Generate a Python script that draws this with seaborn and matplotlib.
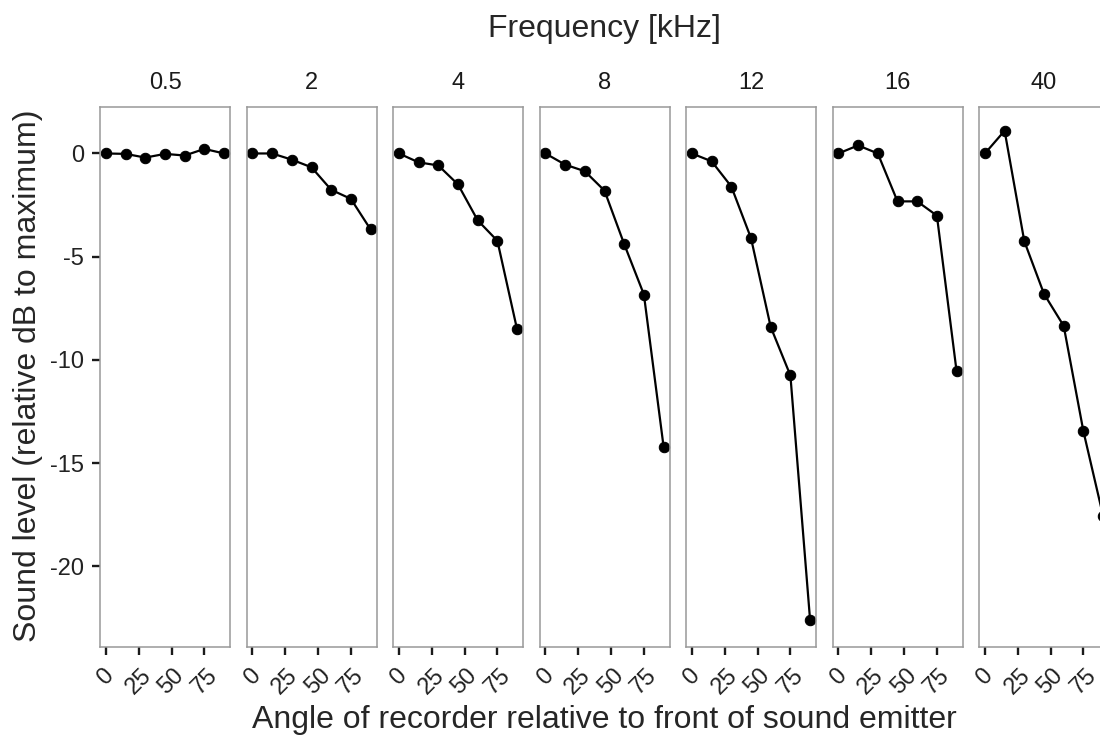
import numpy as np
import pandas as pd
import matplotlib
matplotlib.use("Agg")
import matplotlib.pyplot as plt
import seaborn as sns

# ---- data ----
angles = [0, 15, 30, 45, 60, 75, 90]
freq_labels = ["0.5", "2", "4", "8", "12", "16", "40"]
level_0_5 = [0.0, -0.02, -0.2, -0.02, -0.1, 0.22, 0.0]
level_2 = [0.0, 0.0, -0.3, -0.67, -1.76, -2.2, -3.68]
level_4 = [0.0, -0.43, -0.58, -1.5, -3.24, -4.23, -8.52]
level_8 = [0.0, -0.54, -0.86, -1.8, -4.39, -6.83, -14.2]
level_12 = [0.0, -0.38, -1.6, -4.1, -8.4, -10.75, -22.6]
level_16 = [0.0, 0.39, 0.0, -2.32, -2.32, -3.01, -10.55]
level_40 = [0.0, 1.1, -4.25, -6.8, -8.35, -13.45, -17.55]
y_ticks = [0, -5, -10, -15, -20]
x_ticks = [0, 25, 50, 75]

levels = [level_0_5, level_2, level_4, level_8, level_12, level_16, level_40]
rows = []
for f, lv in zip(freq_labels, levels):
    for a, v in zip(angles, lv):
        rows.append({"freq": f, "angle": a, "level": v})
df = pd.DataFrame(rows)

sns.set_theme(style="ticks")
plt.rcParams['font.family'] = ['Liberation Sans', 'DejaVu Sans']

g = sns.relplot(data=df, x="angle", y="level", col="freq", col_order=freq_labels,
                kind="line", marker="o", color="black", linewidth=1.6,
                markersize=7.5, markeredgecolor="black", errorbar=None,
                facet_kws=dict(sharex=True, sharey=True))
fig = g.figure
fig.set_size_inches(11, 7.38)
fig.set_dpi(100)

W, H = 1100, 738
lefts = [100, 246.5, 393, 539.5, 686, 832.5, 979]
pw = 130
top_px, bot_px = 107, 647
for i, (ax, f) in enumerate(zip(g.axes.flat, freq_labels)):
    ax.set_position([lefts[i] / W, 1 - bot_px / H, pw / W, (bot_px - top_px) / H])
    ax.set_xlim(-4.5, 94.5)
    ax.set_ylim(-23.9, 2.25)
    ax.set_xticks(x_ticks)
    ax.set_xticklabels([str(t) for t in x_ticks], rotation=45, ha="center", va="top",
                       fontsize=17, color="#222222")
    ax.set_yticks(y_ticks)
    ax.set_yticklabels([str(t) for t in y_ticks], fontsize=17, color="#222222")
    ax.tick_params(axis="x", which="major", bottom=True, length=5.6, width=1.7,
                   color="#1a1a1a", pad=7)
    ax.tick_params(axis="y", which="major", left=(i == 0), labelleft=(i == 0),
                   length=5.6, width=1.7, color="#1a1a1a", pad=6)
    for s in ax.spines.values():
        s.set_visible(True)
        s.set_color("#999999")
        s.set_linewidth(1.1)
    ax.set_title(f, fontsize=17, pad=13, color="#1a1a1a")
    ax.set_xlabel("")
    ax.set_ylabel("")
    ax.grid(False)

cx = (100 + 1109) / 2 / W
fig.text(cx, 1 - 29 / H, "Frequency [kHz]", ha="center", va="center", fontsize=23)
fig.text(cx, 1 - 728 / H, "Angle of recorder relative to front of sound emitter",
         ha="center", va="baseline", fontsize=23)
fig.text(28 / W, 1 - 376 / H, "Sound level (relative dB to maximum)",
         ha="center", va="center", rotation=90, fontsize=23)

fig.savefig("out.png", dpi=100)
